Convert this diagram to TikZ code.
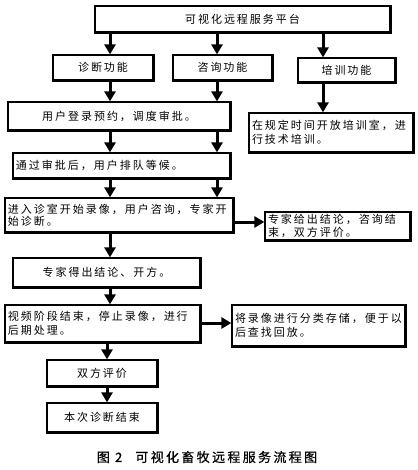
\documentclass[tikz,border=0pt]{standalone}
\usepackage{fontspec}
\setmainfont{Noto Sans CJK SC}[LetterSpace=18]
\newfontfamily\captfont{Noto Sans CJK SC}[LetterSpace=18,FakeBold=0.6]
\usetikzlibrary{arrows.meta}
\begin{document}
\begin{tikzpicture}[x=1pt,y=-1pt,
  box/.style={draw, line width=1.2pt, inner xsep=3pt, inner ysep=1pt,
    font=\fontsize{11}{14}\selectfont},
  lbox/.style={box, align=left},
  cbox/.style={box, align=center},
  arr/.style={line width=3pt, -{Triangle[width=11pt,length=10pt]}},
  capt/.style={font=\captfont\fontsize{13}{15}\selectfont}
]
\useasboundingbox (0,0) rectangle (417,470);
% boxes: centre, text width = w-6, minimum height = h
\node[cbox, text width=289pt, minimum height=26pt] (top) at (242.5,19) {可视化远程服务平台\hspace*{44pt}};
\node[cbox, text width=94pt, minimum height=25pt] (diag) at (103,67.5) {诊断功能};
\node[cbox, text width=93pt, minimum height=25pt] (cons) at (222.5,67.5) {咨询功能};
\node[cbox, text width=91pt, minimum height=24pt] (train) at (346.5,70) {培训功能};
\node[cbox, text width=216pt, minimum height=28pt] (login) at (119,116) {用户登录预约，调度审批。};
\node[lbox, text width=158pt, minimum height=39pt] (troom) at (331,132.5) {在规定时间开放培训室，进\\行技术培训。};
\node[lbox, text width=211pt, minimum height=25pt] (queue) at (121.5,165.5) {通过审批后，用户排队等候。};
\node[lbox, text width=222pt, minimum height=34pt, font=\fontsize{11}{12}\selectfont] (enter) at (119,215) {进入诊室开始录像，用户咨询，专家开\\始诊断。};
\node[lbox, text width=139pt, minimum height=28pt, font=\fontsize{11}{13}\selectfont] (expert) at (337.5,226) {专家给出结论，咨询结\\束，双方评价。};
\node[cbox, text width=181pt, minimum height=29pt] (rx) at (106.5,272.5) {专家得出结论、开方。\hspace*{35pt}};
\node[lbox, text width=189pt, minimum height=37pt] (video) at (102.5,323.5) {视频阶段结束，停止录像，进行\\后期处理。};
\node[lbox, text width=167pt, minimum height=41pt] (store) at (318.5,325.5) {将录像进行分类存储，便于以\\后查找回放。};
\node[cbox, text width=104pt, minimum height=26pt] (eval) at (102,373) {双方评价};
\node[cbox, text width=104pt, minimum height=29pt] (fin) at (102,417.5) {本次诊断结束};
\node[capt] (caption) at (207,457) {图 2\quad 可视化畜牧远程服务流程图};
% shadow-like heavy right and bottom edges
\foreach \n in {top,diag,cons,train,login,troom,queue,enter,expert,rx,video,store,eval,fin}
  \draw[line width=2.4pt] (\n.north east) -- (\n.south east) -- (\n.south west);
% columns and rows for connectors
\coordinate (cA) at (110,0);
\coordinate (cB) at (217,0);
\coordinate (cC) at (323,0);
\coordinate (cD) at (107,0);
\coordinate (rE) at (0,222);
\coordinate (rV) at (0,323);
\draw[arr] (top.south -| cA) -- (diag.north -| cA);
\draw[arr] (top.south -| cB) -- (cons.north -| cB);
\draw[arr] (top.south -| cC) -- (train.north -| cC);
\draw[arr] (diag.south -| cA) -- (login.north -| cA);
\draw[arr] (cons.south -| cB) -- (login.north -| cB);
\draw[arr] (train.south -| cC) -- (troom.north -| cC);
\draw[arr] (login.south -| cA) -- (queue.north -| cA);
\draw[arr] (login.south -| cB) -- (queue.north -| cB);
\draw[arr] (queue.south -| cA) -- (enter.north -| cA);
\draw[arr] (queue.south -| cB) -- (enter.north -| cB);
\draw[arr] (enter.east |- rE) -- (expert.west |- rE);
\draw[arr] (enter.south -| cA) -- (rx.north -| cA);
\draw[arr] (rx.south -| cA) -- (video.north -| cA);
\draw[arr] (video.east |- rV) -- (store.west |- rV);
\draw[arr] (video.south -| cD) -- (eval.north -| cD);
\draw[arr] (eval.south -| cD) -- (fin.north -| cD);
\end{tikzpicture}
\end{document}
